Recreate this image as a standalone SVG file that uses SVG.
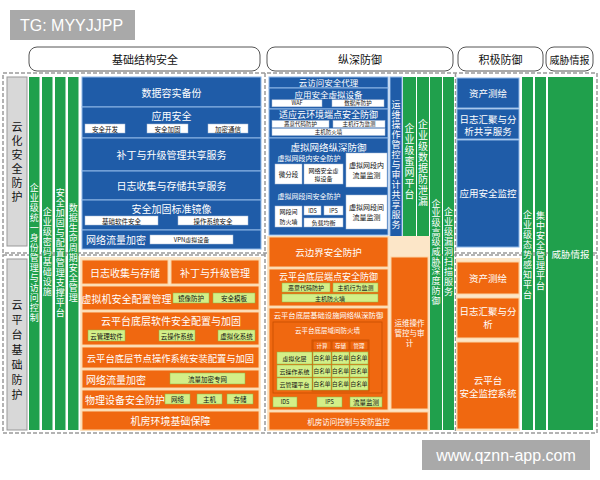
<svg xmlns="http://www.w3.org/2000/svg" width="600" height="480" viewBox="0 0 600 480">
<style>
.t{font-family:"Noto Sans CJK SC","Liberation Sans",sans-serif;text-anchor:middle;dominant-baseline:central}
.v{writing-mode:vertical-rl}
.w{fill:#fff}.k{fill:#111}
.blue{fill:#1f5ca8;stroke:#8db6e6;stroke-width:1}
.org{fill:#f06810;stroke:#fbd3a3;stroke-width:1}
.grn{fill:#20a04c}
.wb{fill:#fff;stroke:#a8bcd8;stroke-width:0.5}
.lg{fill:#d3ef88;stroke:#8fb840;stroke-width:0.5}
.cream{fill:#fce6c8}
.dash{fill:none;stroke:#9a9a9a;stroke-width:1.5;stroke-dasharray:4 2}
.pill{fill:#fff;stroke:#555;stroke-width:1}
.gray{fill:#d8d8d8;stroke:#999;stroke-width:1}
.panel{fill:none;stroke:#c54e00;stroke-width:0.8}
.wm{fill:#a9a9a9}
</style>
<rect width="600" height="480" fill="#fff"/>

<!-- watermarks -->
<g id="tg-label"><rect class="wm" x="10" y="10" width="125" height="30"/><text class="w" x="20" y="31" font-family="Liberation Sans,sans-serif" font-size="16">TG: MYYJJPP</text></g>
<g id="site-label"><rect class="wm" x="422" y="440" width="168" height="30"/><text class="w" x="506" y="461" text-anchor="middle" font-family="Liberation Sans,sans-serif" font-size="16">www.qznn-app.com</text></g>

<!-- headers -->
<g id="h-infra"><rect class="pill" x="29" y="47" width="231" height="24" rx="8"/><text class="t k" x="145" y="59" font-size="11">基础结构安全</text></g>
<g id="h-depth"><rect class="pill" x="267" y="47" width="186" height="24" rx="8"/><text class="t k" x="360" y="59" font-size="11">纵深防御</text></g>
<g id="h-active"><rect class="pill" x="458" y="47" width="85" height="24" rx="8"/><text class="t k" x="500.5" y="59" font-size="11">积极防御</text></g>
<g id="h-intel"><rect class="pill" x="546" y="47" width="47" height="24" rx="8"/><text class="t k" x="569.5" y="59" font-size="10">威胁情报</text></g>

<!-- dashed frames -->
<rect class="dash" x="3" y="73" width="594" height="180"/>
<rect class="dash" x="3" y="255" width="594" height="178"/>
<line class="dash" x1="265" y1="73" x2="265" y2="433"/>
<line class="dash" x1="455.5" y1="73" x2="455.5" y2="433"/>

<!-- left labels -->
<g id="lbl-cloud"><rect class="gray" x="7" y="77" width="20" height="169"/><text class="t v k" x="17" y="163" font-size="11" letter-spacing="3">云化安全防护</text></g>
<g id="lbl-platform"><rect class="gray" x="7" y="259" width="20" height="171"/><text class="t v k" x="17" y="352" font-size="11" letter-spacing="4">云平台基础防护</text></g>

<!-- left green columns -->
<g id="g-identity"><rect class="grn" x="29" y="77" width="10.5" height="353"/><text class="t v w" x="34.2" y="253" font-size="9" letter-spacing="1">企业级统一身份管理与访问控制</text></g>
<g id="g-crypto"><rect class="grn" x="42" y="77" width="10.5" height="353"/><text class="t v w" x="47.2" y="252" font-size="9" letter-spacing="1">企业级密码基础设施</text></g>
<g id="g-harden"><rect class="grn" x="55" y="77" width="10.5" height="353"/><text class="t v w" x="60.2" y="253" font-size="9" letter-spacing="1">安全加固与配置管理支撑平台</text></g>
<g id="g-lifecycle"><rect class="grn" x="68" y="77" width="10.5" height="353"/><text class="t v w" x="73.2" y="253" font-size="9" letter-spacing="1">数据生命周期安全管理</text></g>

<!-- left blue -->
<g id="b-backup"><rect class="blue" x="82" y="77" width="179" height="30"/><text class="t w" x="171.5" y="92" font-size="10">数据容实备份</text></g>
<g id="b-appsec"><rect class="blue" x="82" y="107" width="179" height="31"/><text class="t w" x="171.5" y="115.5" font-size="10">应用安全</text>
<rect class="wb" x="85" y="124" width="40" height="9"/><text class="t k" x="105" y="128.5" font-size="6.5">安全开发</text>
<rect class="wb" x="147" y="124" width="41" height="9"/><text class="t k" x="167.5" y="128.5" font-size="6.5">安全加固</text>
<rect class="wb" x="208" y="124" width="40" height="9"/><text class="t k" x="228" y="128.5" font-size="6.5">加密通信</text></g>
<g id="b-patch"><rect class="blue" x="82" y="138" width="179" height="33"/><text class="t w" x="171.5" y="154.5" font-size="10">补丁与升级管理共享服务</text></g>
<g id="b-log"><rect class="blue" x="82" y="171" width="179" height="29"/><text class="t w" x="171.5" y="185.5" font-size="10">日志收集与存储共享服务</text></g>
<g id="b-image"><rect class="blue" x="82" y="200" width="179" height="30"/><text class="t w" x="171.5" y="208" font-size="10">安全加固标准镜像</text>
<rect class="wb" x="85" y="216" width="73" height="9"/><text class="t k" x="121.5" y="220.5" font-size="6.5">基础软件安全</text>
<rect class="wb" x="178" y="216" width="70" height="9"/><text class="t k" x="213" y="220.5" font-size="6.5">操作系统安全</text></g>
<g id="b-netenc"><rect class="blue" x="82" y="230" width="179" height="19"/><text class="t w" x="116" y="239.5" font-size="10">网络流量加密</text>
<rect class="wb" x="150" y="235" width="83" height="9"/><text class="t k" x="191.5" y="239.5" font-size="6">VPN虚拟设备</text></g>

<!-- left orange -->
<rect class="cream" x="80" y="257" width="181" height="174"/>
<g id="o-log"><rect class="org" x="82" y="260" width="86" height="24"/><text class="t w" x="125" y="272" font-size="10">日志收集与存储</text></g>
<g id="o-patch"><rect class="org" x="171" y="260" width="88" height="24"/><text class="t w" x="215" y="272" font-size="10">补丁与升级管理</text></g>
<g id="o-vm"><rect class="org" x="82" y="286" width="177" height="24"/><text class="t w" x="126.5" y="298" font-size="10">虚拟机安全配置管理</text>
<rect class="lg" x="173" y="293" width="36" height="10"/><text class="t k" x="191" y="298" font-size="6.5">镜像防护</text>
<rect class="lg" x="213" y="293" width="42" height="10"/><text class="t k" x="234" y="298" font-size="6.5">安全模板</text></g>
<g id="o-soft"><rect class="org" x="82" y="312" width="177" height="33"/><text class="t w" x="171" y="320.5" font-size="10">云平台底层软件安全配置与加固</text>
<rect class="lg" x="88" y="330" width="37" height="11"/><text class="t k" x="106.5" y="335.5" font-size="6.5">云管理软件</text>
<rect class="lg" x="159" y="330" width="36" height="11"/><text class="t k" x="177" y="335.5" font-size="6.5">云操作系统</text>
<rect class="lg" x="218" y="330" width="37" height="11"/><text class="t k" x="236.5" y="335.5" font-size="6.5">虚拟化系统</text></g>
<g id="o-node"><rect class="org" x="82" y="347" width="177" height="21"/><text class="t w" x="170.5" y="357.5" font-size="9.3">云平台底层节点操作系统安装配置与加固</text></g>
<g id="o-netenc"><rect class="org" x="82" y="370" width="177" height="18"/><text class="t w" x="116" y="379" font-size="10">网络流量加密</text>
<rect class="lg" x="170" y="373" width="75" height="11"/><text class="t k" x="207.5" y="378.5" font-size="6.5">流量加密专网</text></g>
<g id="o-phys"><rect class="org" x="82" y="390" width="177" height="19"/><text class="t w" x="125" y="399.5" font-size="10">物理设备安全防护</text>
<rect class="lg" x="165" y="394" width="25" height="10"/><text class="t k" x="177.5" y="399" font-size="6.5">网络</text>
<rect class="lg" x="197" y="394" width="25" height="10"/><text class="t k" x="209.5" y="399" font-size="6.5">主机</text>
<rect class="lg" x="227" y="394" width="26" height="10"/><text class="t k" x="240" y="399" font-size="6.5">存储</text></g>
<g id="o-room"><rect class="org" x="82" y="411" width="177" height="19"/><text class="t w" x="170.5" y="420.5" font-size="10">机房环境基础保障</text></g>

<!-- middle blue -->
<g id="m-casb"><rect class="blue" x="269" y="77" width="119" height="11"/><text class="t w" x="328.5" y="82.2" font-size="8.5">云访问安全代理</text></g>
<g id="m-appdev"><rect class="blue" x="269" y="88" width="119" height="21"/><text class="t w" x="328.5" y="93.6" font-size="8.5">应用安全虚拟设备</text>
<rect class="wb" x="272" y="99.8" width="50" height="7"/><text class="t k" x="297" y="103.3" font-size="5.5">WAF</text>
<rect class="wb" x="332" y="99.8" width="52" height="7"/><text class="t k" x="358" y="103.3" font-size="5.5">数据库防护</text></g>
<g id="m-endpoint"><rect class="blue" x="269" y="109" width="119" height="29"/><text class="t w" x="328.5" y="114.5" font-size="9">适应云环境端点安全防御</text>
<rect class="wb" x="272" y="120.5" width="57" height="7"/><text class="t k" x="300.5" y="124" font-size="5.5">恶意代码防护</text>
<rect class="wb" x="333" y="120.5" width="52" height="7"/><text class="t k" x="359" y="124" font-size="5.5">主机行为监测</text>
<rect class="wb" x="272" y="128.5" width="113" height="7"/><text class="t k" x="328.5" y="132" font-size="5.5">主机防火墙</text></g>
<g id="m-vnet"><rect class="blue" x="269" y="138" width="119" height="97"/><text class="t w" x="328.5" y="147" font-size="9.5">虚拟网络纵深防御</text>
<text class="t w" x="309" y="158" font-size="7">虚拟网段内安全防护</text>
<rect class="wb" x="275" y="164" width="27" height="20"/><text class="t k" x="288.5" y="174" font-size="6.5">微分段</text>
<rect class="wb" x="304" y="164" width="39" height="20"/><text class="t k" x="323.5" y="170" font-size="6">网络安全虚</text><text class="t k" x="323.5" y="178.5" font-size="6">拟设备</text>
<rect class="wb" x="346" y="153" width="41" height="34"/><text class="t k" x="366.5" y="165" font-size="7">虚拟网段内</text><text class="t k" x="366.5" y="175" font-size="7">流量监测</text>
<text class="t w" x="309" y="196" font-size="7">虚拟网段间安全防护</text>
<rect class="wb" x="275" y="206" width="27" height="21"/><text class="t k" x="288.5" y="211.8" font-size="6">网段间</text><text class="t k" x="288.5" y="221" font-size="6">防火墙</text>
<rect class="wb" x="304" y="206" width="17" height="9"/><text class="t k" x="312.5" y="210.5" font-size="5.5">IDS</text>
<rect class="wb" x="324" y="206" width="19" height="9"/><text class="t k" x="333.5" y="210.5" font-size="5.5">IPS</text>
<rect class="wb" x="304" y="218" width="39" height="9"/><text class="t k" x="323.5" y="222.5" font-size="6">负载均衡</text>
<rect class="wb" x="346" y="195" width="41" height="34"/><text class="t k" x="366.5" y="207" font-size="7">虚拟网段间</text><text class="t k" x="366.5" y="217" font-size="7">流量监测</text></g>

<!-- middle columns -->
<g id="m-ops"><rect class="blue" x="390" y="77" width="12" height="173"/><text class="t v w" x="396" y="165" font-size="9" letter-spacing="1">运维操作管控与审计共享服务</text></g>
<g id="g-honey"><rect class="grn" x="403" y="77" width="13" height="173"/><text class="t v w" x="409.5" y="162" font-size="10" letter-spacing="1">企业级蜜网平台</text></g>
<g id="g-dlp"><rect class="grn" x="417" y="77" width="12" height="173"/><text class="t v w" x="423" y="163" font-size="10" letter-spacing="1">企业级数据防泄漏</text></g>
<g id="g-apt"><rect class="grn" x="430" y="77" width="12" height="353"/><text class="t v w" x="436" y="252" font-size="9" letter-spacing="0.7">企业级高级威胁深度防御</text></g>
<g id="g-scan"><rect class="grn" x="443" y="77" width="11" height="353"/><text class="t v w" x="448.5" y="252" font-size="9" letter-spacing="1">企业级漏洞扫描服务</text></g>

<!-- middle orange -->
<rect class="cream" x="267" y="236" width="163" height="195"/>
<g id="mo-border"><rect class="org" x="269" y="237" width="119" height="30"/><text class="t w" x="328.5" y="252" font-size="9.5">云边界安全防护</text></g>
<g id="mo-endpoint"><rect class="org" x="269" y="269" width="119" height="37"/><text class="t w" x="328.5" y="276.5" font-size="9">云平台底层端点安全防御</text>
<rect class="lg" x="282" y="283" width="48" height="9"/><text class="t k" x="306" y="287.5" font-size="6">恶意代码防护</text>
<rect class="lg" x="333" y="283" width="45" height="9"/><text class="t k" x="355.5" y="287.5" font-size="6">主机行为监测</text>
<rect class="lg" x="282" y="294" width="96" height="8"/><text class="t k" x="330" y="298" font-size="6">主机防火墙</text></g>
<g id="mo-infra"><rect class="org" x="269" y="308" width="119" height="102"/><text class="t w" x="328.5" y="314.5" font-size="7.3">云平台底层基础设施网络纵深防御</text>
<rect class="panel" x="273" y="322" width="109" height="71"/>
<text class="t w" x="327.5" y="330" font-size="6.5">云平台底层域间防火墙</text>
<rect class="panel" x="312" y="340" width="57" height="51"/>
<rect class="panel" x="313" y="341" width="18" height="9"/><text class="t w" x="322" y="345.5" font-size="5.5">计算</text>
<rect class="panel" x="332" y="341" width="17" height="9"/><text class="t w" x="340.5" y="345.5" font-size="5.5">存储</text>
<rect class="panel" x="350" y="341" width="18" height="9"/><text class="t w" x="359" y="345.5" font-size="5.5">管理</text>
<rect class="lg" x="277" y="352" width="35" height="12"/><text class="t k" x="294.5" y="358" font-size="6">虚拟化层</text>
<rect class="lg" x="277" y="365" width="35" height="12"/><text class="t k" x="294.5" y="371" font-size="6">云操作系统</text>
<rect class="lg" x="277" y="378" width="35" height="12"/><text class="t k" x="294.5" y="384" font-size="6">云管理平台</text>
<rect class="lg" x="313" y="352" width="18" height="12"/><text class="t k" x="322" y="358" font-size="5.6">白名单</text>
<rect class="lg" x="332" y="352" width="17" height="12"/><text class="t k" x="340.5" y="358" font-size="5.6">白名单</text>
<rect class="lg" x="350" y="352" width="18" height="12"/><text class="t k" x="359" y="358" font-size="5.6">白名单</text>
<rect class="lg" x="313" y="365" width="18" height="12"/><text class="t k" x="322" y="371" font-size="5.6">白名单</text>
<rect class="lg" x="332" y="365" width="17" height="12"/><text class="t k" x="340.5" y="371" font-size="5.6">白名单</text>
<rect class="lg" x="350" y="365" width="18" height="12"/><text class="t k" x="359" y="371" font-size="5.6">白名单</text>
<rect class="lg" x="313" y="378" width="18" height="12"/><text class="t k" x="322" y="384" font-size="5.6">白名单</text>
<rect class="lg" x="332" y="378" width="17" height="12"/><text class="t k" x="340.5" y="384" font-size="5.6">白名单</text>
<rect class="lg" x="350" y="378" width="18" height="12"/><text class="t k" x="359" y="384" font-size="5.6">白名单</text>
<rect class="lg" x="273" y="397" width="24" height="10"/><text class="t k" x="285" y="402" font-size="5.5">IDS</text>
<rect class="lg" x="317" y="397" width="25" height="10"/><text class="t k" x="329.5" y="402" font-size="5.5">IPS</text>
<rect class="lg" x="350" y="397" width="32" height="10"/><text class="t k" x="366" y="402" font-size="6.5">流量监测</text></g>
<g id="mo-audit"><rect class="org" x="391" y="257" width="37" height="152"/><text class="t w" x="409.5" y="322" font-size="7.5">运维操作</text><text class="t w" x="409.5" y="332" font-size="7.5">管控与审</text><text class="t w" x="409.5" y="342" font-size="7.5">计</text></g>
<g id="mo-room"><rect class="org" x="269" y="412" width="159" height="18"/><text class="t w" x="348.5" y="421" font-size="7.5">机房访问控制与安防监控</text></g>

<!-- active defence -->
<g id="a-asset"><rect class="blue" x="457" y="78" width="62" height="30"/><text class="t w" x="488" y="93" font-size="9.5">资产测绘</text></g>
<g id="a-log"><rect class="blue" x="457" y="109" width="62" height="30"/><text class="t w" x="488" y="118.5" font-size="9.5">日志汇聚与分</text><text class="t w" x="488" y="131" font-size="9.5">析共享服务</text></g>
<g id="a-appmon"><rect class="blue" x="457" y="140" width="62" height="107"/><text class="t w" x="488" y="193" font-size="9.5">应用安全监控</text></g>
<rect class="cream" x="456" y="258" width="64" height="173"/>
<g id="ao-asset"><rect class="org" x="457" y="262" width="62" height="32"/><text class="t w" x="488" y="278" font-size="9.5">资产测绘</text></g>
<g id="ao-log"><rect class="org" x="457" y="298" width="62" height="40"/><text class="t w" x="488" y="311" font-size="9.5">日志汇聚与分</text><text class="t w" x="488" y="324" font-size="9.5">析</text></g>
<g id="ao-mon"><rect class="org" x="457" y="342" width="62" height="87"/><text class="t w" x="488" y="380" font-size="9.5">云平台</text><text class="t w" x="488" y="393" font-size="9.5">安全监控系统</text></g>

<!-- right green -->
<g id="g-situation"><rect class="grn" x="522" y="77" width="11" height="353"/><text class="t v w" x="527.5" y="255" font-size="9" letter-spacing="1">企业级态势感知平台</text></g>
<g id="g-central"><rect class="grn" x="535" y="77" width="11" height="353"/><text class="t v w" x="540.5" y="251" font-size="9" letter-spacing="1">集中安全管理平台</text></g>
<g id="g-intel"><rect class="grn" x="548" y="77" width="45" height="353"/><text class="t w" x="570.5" y="254" font-size="9.5">威胁情报</text></g>

<g id="connectors"/>
</svg>
